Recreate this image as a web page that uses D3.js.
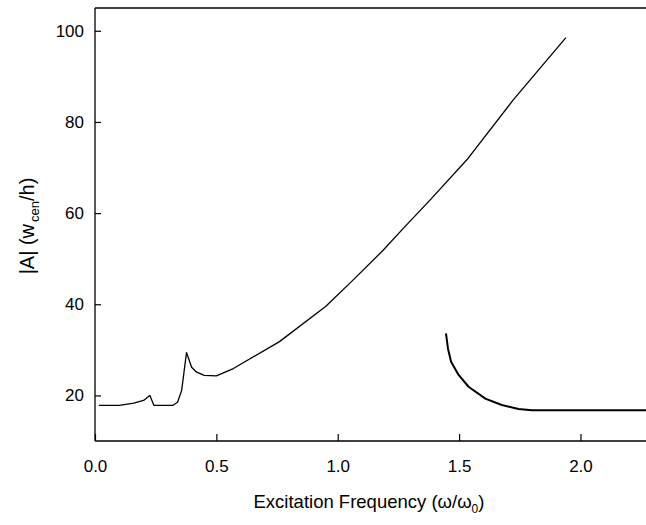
<!DOCTYPE html>
<html>
<head>
<meta charset="utf-8">
<script src="https://cdn.jsdelivr.net/npm/d3@7"></script>
<style>
  html, body { margin: 0; padding: 0; background: #fff; }
  svg { display: block; font-family: "Liberation Sans", Arial, sans-serif; }
</style>
</head>
<body>
<svg id="chart" width="646" height="525"></svg>
<script>
// ---- data ----
const branch1X = [0.016, 0.10, 0.16, 0.20, 0.226, 0.243, 0.32, 0.34, 0.357, 0.377, 0.398, 0.419, 0.45, 0.50, 0.57, 0.76, 0.95, 1.065, 1.188, 1.271, 1.381, 1.532, 1.724, 1.94];
const branch1Y = [17.8, 17.8, 18.3, 18.9, 20.0, 17.8, 17.8, 18.5, 21.1, 29.4, 26.2, 25.1, 24.4, 24.3, 25.9, 31.8, 39.5, 45.4, 51.9, 56.7, 62.9, 71.7, 84.9, 98.5];
const branch2X = [1.446, 1.454, 1.467, 1.498, 1.539, 1.608, 1.676, 1.745, 1.800, 2.27];
const branch2Y = [33.6, 30.3, 27.4, 24.5, 21.9, 19.3, 17.9, 17.0, 16.75, 16.75];
const xTicks = [0.0, 0.5, 1.0, 1.5, 2.0];
const yTicks = [20, 40, 60, 80, 100];

// ---- layout ----
const svg = d3.select("#chart");
const mLeft = 95, mRight = 646, mTop = 8, mBottom = 441;
const x = d3.scaleLinear().domain([0, 2.27]).range([mLeft, mRight]);
const y = d3.scaleLinear().domain([10, 105]).range([mBottom, mTop]);

// frame lines: left, bottom, top
svg.append("line").attr("x1", mLeft).attr("x2", mLeft).attr("y1", mTop).attr("y2", mBottom)
  .attr("stroke", "#000").attr("stroke-width", 1.3);
svg.append("line").attr("x1", mLeft).attr("x2", mRight).attr("y1", mBottom).attr("y2", mBottom)
  .attr("stroke", "#000").attr("stroke-width", 1.3);
svg.append("line").attr("x1", mLeft).attr("x2", mRight).attr("y1", mTop).attr("y2", mTop)
  .attr("stroke", "#000").attr("stroke-width", 1.3);

// x axis (ticks inward)
const xAxis = d3.axisBottom(x).tickValues(xTicks).tickFormat(d3.format(".1f"))
  .tickSizeInner(-7).tickSizeOuter(0).tickPadding(19);
const gx = svg.append("g").attr("transform", `translate(0,${mBottom})`).call(xAxis);
gx.select(".domain").remove();
gx.selectAll("line").attr("stroke", "#000").attr("stroke-width", 1.2);
gx.selectAll("text").attr("font-size", 17).attr("fill", "#000")
  .attr("font-family", '"Liberation Sans", Arial, sans-serif');

// y axis (ticks inward)
const yAxis = d3.axisLeft(y).tickValues(yTicks).tickFormat(d3.format("d"))
  .tickSizeInner(-6).tickSizeOuter(0).tickPadding(11);
const gy = svg.append("g").attr("transform", `translate(${mLeft},0)`).call(yAxis);
gy.select(".domain").remove();
gy.selectAll("line").attr("stroke", "#000").attr("stroke-width", 1.2);
gy.selectAll("text").attr("font-size", 17).attr("fill", "#000")
  .attr("font-family", '"Liberation Sans", Arial, sans-serif');

// curves
const line = d3.line().x(d => x(d[0])).y(d => y(d[1]));
const b1 = branch1X.map((v, i) => [v, branch1Y[i]]);
const b2 = branch2X.map((v, i) => [v, branch2Y[i]]);
svg.append("path").datum(b1).attr("d", line).attr("fill", "none")
  .attr("stroke", "#000").attr("stroke-width", 1.3).attr("stroke-linejoin", "round");
svg.append("path").datum(b2).attr("d", line).attr("fill", "none")
  .attr("stroke", "#000").attr("stroke-width", 2).attr("stroke-linejoin", "round");

// axis titles
const xt = svg.append("text").attr("x", 369).attr("y", 508).attr("text-anchor", "middle")
  .attr("font-size", 18.5).attr("fill", "#000");
xt.append("tspan").text("Excitation Frequency (ω/ω");
xt.append("tspan").attr("font-size", 12).attr("dy", 5).text("0");
xt.append("tspan").attr("dy", -5).text(")");

const yt = svg.append("text").attr("transform", "translate(34,226) rotate(-90)")
  .attr("text-anchor", "middle").attr("font-size", 20).attr("fill", "#000");
yt.append("tspan").text("|A| (w");
yt.append("tspan").attr("font-size", 13).attr("dx", 2).attr("dy", 5).text("cen");
yt.append("tspan").attr("dy", -5).text("/h)");
</script>
</body>
</html>
